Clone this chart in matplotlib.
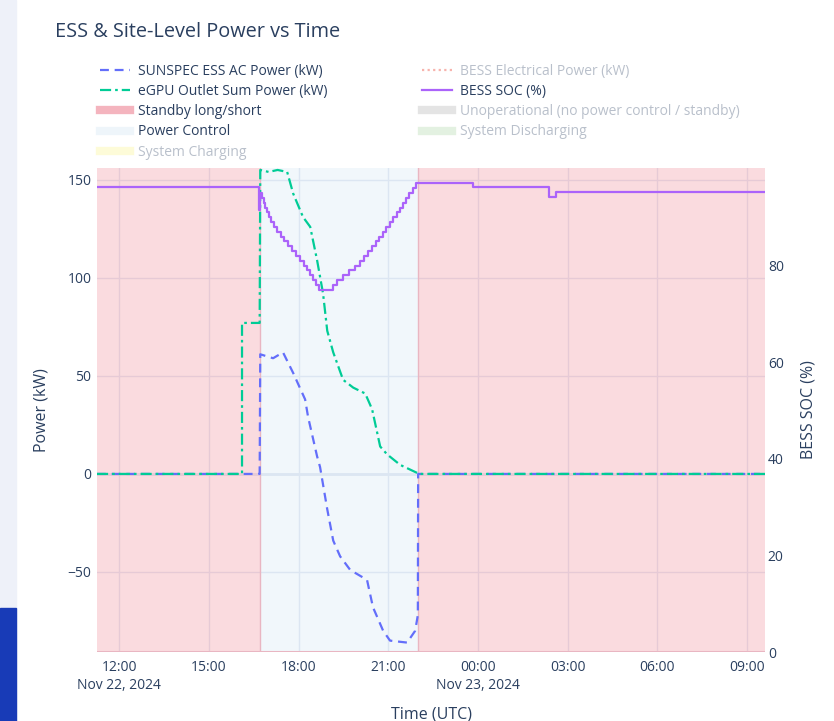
import datetime as dt
import matplotlib
matplotlib.use("Agg")
import matplotlib.pyplot as plt
from matplotlib.lines import Line2D
from matplotlib.patches import Rectangle

# ------------------------------------------------------------
# data (hours since Nov 22 2024 00:00 UTC)
# ------------------------------------------------------------
T_START = 11.26
T_END = 33.60

PC_START = 16.72   # power control window
PC_END = 22.00

ess_t = [11.26, 16.70, 16.72, 17.15, 17.48, 17.82, 18.22, 18.32, 18.62, 18.72,
         18.96, 19.16, 19.39, 19.73, 20.29, 20.49, 20.83, 21.06, 21.63, 21.90,
         21.99, 22.00, 33.60]
ess_kw = [0, 0, 61, 59, 62, 51.5, 38, 29, 9, 3.5,
          -18, -34, -42, -49, -54, -68, -80, -85, -86, -80,
          -72, 0, 0]

egpu_t = [11.26, 16.11, 16.11, 16.70, 16.72, 17.00, 17.30, 17.62, 17.82, 18.15,
          18.39, 18.62, 18.82, 18.96, 19.16, 19.49, 19.83, 20.23, 20.46, 20.73,
          20.96, 21.40, 21.97, 22.00, 33.60]
egpu_kw = [0, 0, 77, 77, 155, 154, 155, 154, 143, 131,
           126, 109, 92, 73, 62, 48, 44, 41, 33, 14,
           10, 4.6, 0.5, 0, 0]

soc_t = [11.26, 16.69, 16.71, 16.77, 16.83, 16.89, 16.95, 17.01, 17.08, 17.17,
         17.29, 17.41, 17.53, 17.65, 17.78, 17.92, 18.05, 18.17, 18.27, 18.38,
         18.49, 18.60, 18.70, 19.16, 19.30, 19.50, 19.70, 19.88, 20.05, 20.20,
         20.33, 20.46, 20.58, 20.70, 20.82, 20.94, 21.06, 21.17, 21.28, 21.38,
         21.48, 21.58, 21.70, 21.82, 21.94, 23.84, 26.38, 26.62, 33.60]
soc_pct = [96.3, 91.5, 95, 94, 93, 92, 91, 90, 89, 88,
           87, 86, 85, 84, 83, 82, 81, 80, 79, 78,
           77, 76, 75, 76, 77, 78, 79, 80, 81, 82,
           83, 84, 85, 86, 87, 88, 89, 90, 91, 92,
           93, 94, 95, 96, 97.1, 96.3, 94.2, 95.2, 95.2]

x_ticks = [12, 15, 18, 21, 24, 27, 30, 33]
x_tick_labels = ["12:00\nNov 22, 2024", "15:00", "18:00", "21:00",
                 "00:00\nNov 23, 2024", "03:00", "06:00", "09:00"]

BASE = dt.datetime(2024, 11, 22)


def to_dt(hours):
    return [BASE + dt.timedelta(hours=h) for h in hours]


# ------------------------------------------------------------
# style
# ------------------------------------------------------------
TXT = "#2a3f5f"
GREY_TXT = "#b9c0cb"
GRID = "#e6ebf4"
EDGE = "#e9b6c2"
BLUE = "#636efa"
GREEN = "#00cc96"
PURPLE = "#ab63fa"
PINK = "#e63950"
LIGHTBLUE = "#a9cfec"

plt.rcParams["font.family"] = ["Open Sans", "DejaVu Sans"]

fig = plt.figure(figsize=(8.34, 7.21), dpi=100)
ax = fig.add_axes([97 / 834, 69 / 721, 668 / 834, 484 / 721])
ax2 = ax.twinx()

# shaded state regions
ax.axvspan(to_dt([T_START])[0], to_dt([PC_START])[0], color=PINK, alpha=0.18, lw=0, zorder=1)
ax.axvspan(to_dt([PC_END])[0], to_dt([T_END])[0], color=PINK, alpha=0.18, lw=0, zorder=1)
ax.axvspan(to_dt([PC_START])[0], to_dt([PC_END])[0], color=LIGHTBLUE, alpha=0.16, lw=0, zorder=1)
for h in [PC_START, PC_END]:
    ax.axvline(to_dt([h])[0], color=EDGE, lw=1, zorder=1.5)
ax.axhline(-90.8, color=EDGE, lw=1.5, zorder=1.5)

ax.plot(to_dt(ess_t), ess_kw, color=BLUE, lw=1.6, dashes=(4, 2.6), zorder=3)
ax.plot(to_dt(egpu_t), egpu_kw, color=GREEN, lw=1.6, dashes=(5, 1.8, 1.2, 1.8), zorder=3)
ax2.plot(to_dt(soc_t), soc_pct, color=PURPLE, lw=1.6, drawstyle="steps-post", zorder=3)

ax.set_xlim(to_dt([T_START])[0], to_dt([T_END])[0])
ax.set_ylim(-90.8, 156)
ax2.set_ylim(0, 100.2)

ax.set_yticks([-50, 0, 50, 100, 150])
ax.set_yticklabels(["\u221250", "0", "50", "100", "150"])
ax2.set_yticks([0, 20, 40, 60, 80])
ax.set_xticks(to_dt(x_ticks))
ax.set_xticklabels(x_tick_labels)

ax.grid(True, color=GRID, lw=1)
ax.set_axisbelow(True)
ax.axhline(0, color=GRID, lw=2, zorder=0.6)
for a in (ax, ax2):
    for s in a.spines.values():
        s.set_visible(False)
    a.tick_params(length=0, labelsize=10, labelcolor=TXT)
ax.tick_params(axis="y", pad=4)
ax.tick_params(axis="x", pad=6)
ax2.tick_params(axis="y", pad=2)

ax.set_ylabel("Power (kW)", fontsize=11.5, color=TXT, labelpad=13)
ax.set_xlabel("Time (UTC)", fontsize=11.5, color=TXT, labelpad=10)
ax2.set_ylabel("BESS SOC (%)", fontsize=11.5, color=TXT, labelpad=12)

fig.text(55 / 834, 1 - 32 / 721, "ESS & Site-Level Power vs Time",
         fontsize=14.3, color=TXT, va="center", ha="left")

# legend (two columns, hidden traces greyed out)
col1 = [
    (Line2D([], [], color=BLUE, lw=1.6, dashes=(4, 2.6)), "SUNSPEC ESS AC Power (kW)", True),
    (Line2D([], [], color=GREEN, lw=1.6, dashes=(5, 1.8, 1.2, 1.8)), "eGPU Outlet Sum Power (kW)", True),
    (Line2D([], [], color="#f4b4be", lw=6), "Standby long/short", True),
    (Line2D([], [], color="#eef5fa", lw=6), "Power Control", True),
    (Line2D([], [], color="#fdfbd8", lw=6), "System Charging", False),
]
col2 = [
    (Line2D([], [], color="#f7b3ad", lw=1.6, ls=(0, (1, 1.5))), "BESS Electrical Power (kW)", False),
    (Line2D([], [], color=PURPLE, lw=1.6), "BESS SOC (%)", True),
    (Line2D([], [], color="#e4e4e4", lw=6), "Unoperational (no power control / standby)", False),
    (Line2D([], [], color="#e3f1e1", lw=6), "System Discharging", False),
]
for items, x0 in [(col1, 100 / 834), (col2, 422 / 834)]:
    leg = fig.legend([h for h, _, _ in items], [t for _, t, _ in items],
                     loc="upper left", bbox_to_anchor=(x0, 1 - 64 / 721),
                     frameon=False, fontsize=10, handlelength=2.15, handletextpad=0.58,
                     labelspacing=0.37, borderpad=0, borderaxespad=0)
    for txt, (_, _, on) in zip(leg.get_texts(), items):
        txt.set_color(TXT if on else GREY_TXT)

# page strip at the left edge of the screenshot
fig.patches.append(Rectangle((0, 0), 16 / 834, 1, transform=fig.transFigure,
                             color="#eef1f9", zorder=-1))
fig.patches.append(Rectangle((0, 0), 16 / 834, 113 / 721, transform=fig.transFigure,
                             color="#183bb7", zorder=-1))

fig.savefig("out.png", dpi=100)
